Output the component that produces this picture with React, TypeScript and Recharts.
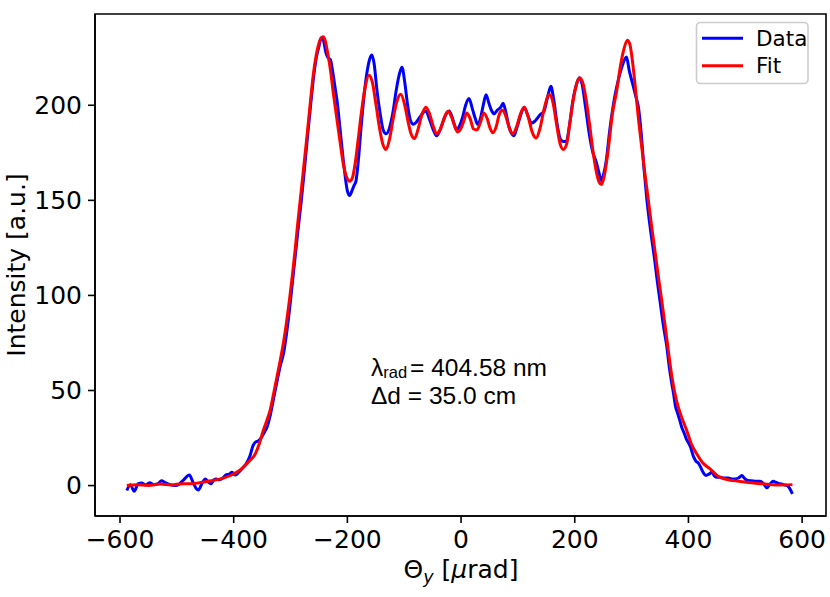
import React from "react";
import { Line, LineChart, ReferenceArea, XAxis, YAxis } from "recharts";

// measured profile (blue)
const thetaData = [
  -588, -582, -575, -568, -562, -555, -548, -540, -533, -527, -520, -512, -503, -495, -488, -478, -472, -466,
  -462, -456, -450, -445, -440, -435, -431, -425, -419, -414, -408, -403, -397, -391, -385, -377, -371, -366,
  -362, -357, -352, -346, -341, -335, -329, -323, -318, -312, -307, -302, -297, -292, -287, -281, -276, -270,
  -264, -259, -254, -250, -246, -242, -238, -234, -230, -226, -222, -218, -212, -206, -200, -196, -192, -188,
  -185, -181, -176, -170, -164, -160, -157, -153, -148, -142, -137, -132, -126, -120, -114, -108, -104, -99,
  -94, -89, -84, -79, -72, -67, -62, -56, -50, -43, -37, -31, -26, -21, -16, -12, -8, -3, 3, 8, 14, 20, 25, 29,
  34, 39, 44, 49, 54, 58, 64, 70, 74, 79, 84, 89, 93, 98, 104, 111, 117, 124, 131, 139, 146, 152, 158, 163,
  169, 175, 180, 185, 191, 197, 203, 208, 213, 219, 225, 232, 238, 243, 247, 251, 255, 262, 270, 278, 285,
  291, 296, 303, 308, 312, 317, 322, 327, 333, 340, 345, 350, 356, 362, 366, 370, 374, 377, 381, 385, 389,
  392, 397, 401, 404, 408, 411, 414, 417, 421, 424, 428, 431, 436, 441, 446, 450, 456, 462, 470, 476, 482,
  488, 494, 498, 502, 510, 518, 526, 532, 538, 544, 549, 555, 561, 567, 574, 578, 583
];
const intensityData = [
  -2.6, 0.5, -3, 1, 1.4, 0.3, 1.5, 0.5, 1, 2.5, 1.5, 0.5, 0, 1, 3, 5.5, 2, -1.5,
  -2.3, 1, 3.5, 2, 1, 3, 3.5, 3, 4, 5.5, 6, 7, 5.5, 7, 9, 12, 16, 21,
  22.8, 23.5, 25, 28, 31, 38, 47, 56, 63, 70, 80, 92, 106, 120, 134, 150, 165, 184,
  202, 216, 226, 231, 235.5, 234, 228, 225, 224, 218, 210, 202, 185, 168, 155, 152.5, 155, 158,
  160, 170, 188, 207, 220, 225, 226.5, 222, 208, 195, 187, 185, 188, 196, 208, 217, 220, 212,
  200, 192, 190, 191, 194, 196, 197, 193, 188, 184, 187, 192, 195.5, 197, 194, 190, 187, 189, 194, 200, 203.5, 198, 193, 190,
  193, 200, 205.5, 201, 197, 195.5, 197.5, 199, 201, 196, 189, 185, 184, 188, 194, 199, 195, 190.5, 192, 195, 197, 204, 210, 203,
  190, 182, 181, 181, 190, 203, 211, 214.5, 211, 199, 186, 175, 170, 164, 160.5, 164, 170, 188, 204, 215, 222,
  225.4, 218, 210, 204, 199, 185, 166, 150, 135, 120, 108, 97, 84, 73, 63, 55, 48, 42, 38, 34, 30,
  28, 24, 22, 20, 16, 14, 12.5, 12, 10, 8, 6, 5.3, 6, 7, 5, 4.4, 4.4, 4, 4, 3.5, 3.5,
  4, 5.3, 4, 3, 2.5, 2.3, 2.3, 1, -1.2, 1, 2.3, 1.5, 1, 0.5, 0, -1.5, -4.4
];

// fitted model (red)
const thetaFit = [
  -588, -570, -550, -530, -510, -490, -476, -460, -440, -420, -406, -395, -383, -372, -362, -355, -348, -342,
  -336, -330, -324, -318, -312, -307, -302, -297, -292, -288, -283, -277, -271, -265, -260, -255, -251, -247,
  -243, -239, -235, -230, -225, -219, -213, -207, -201, -196, -191, -186, -181, -175, -169, -162, -156, -150,
  -144, -138, -132, -126, -120, -113, -106, -99, -93, -88, -82, -76, -69, -62, -56, -49, -43, -37, -30, -23,
  -17, -11, -6, 0, 5, 10, 16, 22, 28, 34, 40, 46, 51, 56, 62, 67, 73, 79, 85, 91, 98, 104, 111, 118, 125,
  132, 139, 146, 155, 162, 168, 174, 180, 186, 192, 198, 204, 209, 214, 220, 226, 232, 238, 243, 247, 252,
  259, 266, 274, 280, 286, 292.5, 297, 302, 307, 312, 317, 323, 329.5, 335, 341, 347, 353, 359, 364.6, 371,
  379, 388, 397, 405, 414.5, 425, 438, 455, 479, 502, 531, 555, 583
];
const intensityFit = [
  0, 0.5, 0, 0.8, 0.3, 1, 0.9, 1.5, 2.5, 3.8, 5.3, 7, 9.6, 13, 16.7, 22, 29, 34,
  39.5, 48, 57, 66, 76, 86, 97.4, 110, 123.7, 136, 150, 167, 184, 202, 216, 226, 231.6, 235,
  236, 234, 228, 219, 207, 194, 181, 169, 162, 160, 162, 170, 182, 197, 209, 215.8, 212, 201,
  189, 180, 176.7, 182, 192, 202, 205.8, 200, 191, 185, 182.5, 187, 195, 199, 196, 189, 185, 187, 193, 196.8,
  194, 189, 186, 188, 192, 196, 193, 187.5, 187, 191, 196, 193, 188, 185.6, 189, 195, 197.4, 194, 188, 185, 189, 195, 199, 194, 186,
  182.8, 188, 198, 205.6, 201, 190, 180, 176.8, 180, 192, 204, 212, 214.4, 212, 203, 190, 176, 165, 159.5, 158.3, 163,
  177, 195, 208, 220, 229, 234.2, 232, 222, 208, 193, 180, 165, 150, 137, 123.7, 110, 97.4, 84, 71, 57,
  44.7, 36, 29, 22, 16.7, 12, 8.8, 4.4, 2.6, 1.8, 0.9, 0.3, 0.5
];

const xTicks = [-600, -400, -200, 0, 200, 400, 600];
const yTicks = [0, 50, 100, 150, 200];

const dataSeries = thetaData.map((x, i) => ({ x, y: intensityData[i] }));
const fitSeries = thetaFit.map((x, i) => ({ x, y: intensityFit[i] }));

const X_DOMAIN: [number, number] = [-644, 642];
const Y_DOMAIN: [number, number] = [-16, 248];

const tickFont = { fill: "#000", fontSize: 25, fontFamily: "DejaVu Sans" };
const minus = (v: number) => (v < 0 ? `\u2212${Math.abs(v)}` : `${v}`);

export default function App() {
  return (
    <div style={{ position: "absolute", left: 0, top: 0, width: 830, height: 597, background: "#fff" }}>
      <LineChart width={830} height={597} margin={{ top: 14, right: 4, left: 0, bottom: 0 }}>
        <XAxis
          type="number"
          dataKey="x"
          domain={X_DOMAIN}
          ticks={xTicks}
          allowDataOverflow
          height={81}
          tick={tickFont}
          tickFormatter={minus}
          tickSize={7}
          tickMargin={7}
          tickLine={{ stroke: "#000", strokeWidth: 1.6 }}
          axisLine={{ stroke: "#000", strokeWidth: 1.6 }}
        />
        <YAxis
          type="number"
          domain={Y_DOMAIN}
          ticks={yTicks}
          allowDataOverflow
          width={95}
          tick={tickFont}
          tickFormatter={minus}
          tickSize={7}
          tickMargin={6}
          tickLine={{ stroke: "#000", strokeWidth: 1.6 }}
          axisLine={{ stroke: "#000", strokeWidth: 1.6 }}
        />
        <ReferenceArea
          x1={X_DOMAIN[0]}
          x2={X_DOMAIN[1]}
          y1={Y_DOMAIN[0]}
          y2={Y_DOMAIN[1]}
          fill="none"
          stroke="#000"
          strokeWidth={1.6}
          ifOverflow="visible"
        />
        <Line
          data={dataSeries}
          dataKey="y"
          type="monotone"
          stroke="#0000ff"
          strokeWidth={3}
          dot={false}
          activeDot={false}
          isAnimationActive={false}
        />
        <Line
          data={fitSeries}
          dataKey="y"
          type="monotone"
          stroke="#ff0000"
          strokeWidth={3}
          dot={false}
          activeDot={false}
          isAnimationActive={false}
        />
      </LineChart>

      <svg
        width={830}
        height={597}
        style={{ position: "absolute", left: 0, top: 0, pointerEvents: "none" }}
      >
        {/* axis titles */}
        <text
          x={25}
          y={265}
          transform="rotate(-90 25 265)"
          textAnchor="middle"
          fontFamily="DejaVu Sans"
          fontSize={25}
          fill="#000"
        >
          Intensity [a.u.]
        </text>
        <text x={461} y={578} textAnchor="middle" fontFamily="DejaVu Sans" fontSize={25} fill="#000">
          <tspan>Θ</tspan>
          <tspan fontSize={17.5} fontStyle="italic" dy={5}>y</tspan>
          <tspan dy={-5}> [</tspan>
          <tspan fontStyle="italic">μ</tspan>
          <tspan>rad]</tspan>
        </text>

        {/* fit parameters */}
        <text x={371} y={376} fontFamily="Liberation Sans, Arial" fontSize={24.5} fill="#000">
          <tspan>λ</tspan>
          <tspan fontSize={16.5} dy={2}>rad</tspan>
          <tspan dy={-2} dx={3}>= 404.58 nm</tspan>
        </text>
        <text x={371} y={404} fontFamily="Liberation Sans, Arial" fontSize={24.5} fill="#000">
          Δd = 35.0 cm
        </text>

        {/* legend */}
        <rect x={696.5} y={22.5} width={111.5} height={61} rx={4} fill="#fff" fillOpacity={0.8} stroke="#cccccc" strokeWidth={1.6} />
        <line x1={702} x2={743} y1={38.3} y2={38.3} stroke="#0000ff" strokeWidth={3} />
        <line x1={702} x2={743} y1={65.7} y2={65.7} stroke="#ff0000" strokeWidth={3} />
        <text x={756} y={45.5} fontFamily="DejaVu Sans" fontSize={21.5} fill="#000">Data</text>
        <text x={756} y={73} fontFamily="DejaVu Sans" fontSize={21.5} fill="#000">Fit</text>
      </svg>
    </div>
  );
}
